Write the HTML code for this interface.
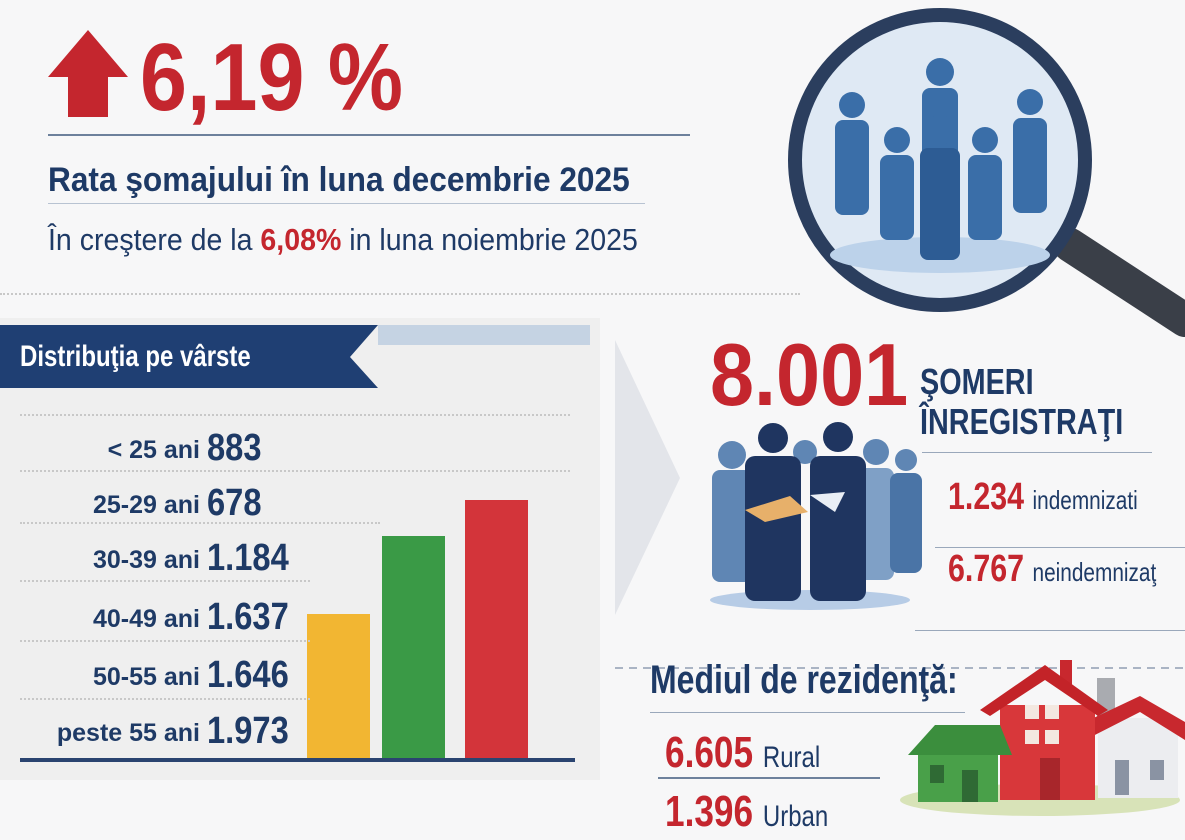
<!DOCTYPE html>
<html><head><meta charset="utf-8"><style>
body{margin:0;width:1185px;height:837px;overflow:hidden;background:#f7f7f8;font-family:"Liberation Sans",sans-serif;position:relative}
.a{position:absolute;white-space:nowrap}
.c{display:inline-block;transform:scaleX(.8);transform-origin:left center}
.r{color:#c4262e}.n{color:#1e3a66}
.b{font-weight:bold}
.ln{position:absolute;height:2px;background:#6d819c}
.dl{position:absolute;border-top:2px dotted #c8c8c8;height:0}
.lab{position:absolute;left:0;width:200px;text-align:right;font-size:25px;color:#1e3a66;font-weight:bold}
.val{position:absolute;left:207px;font-size:38px;font-weight:bold;color:#1e3a66}
.val .c{transform:scaleX(.86)}
</style></head><body>
<svg class="a" style="left:0;top:0" width="1185" height="837">
<polygon points="48,77 88,30 128,77 108,77 108,117 68,117 68,77" fill="#c4262e"/>
<rect x="0" y="318" width="600" height="462" fill="#efefef"/>
<polygon points="0,325 378,325 350,357 378,388 0,388" fill="#1f3f73"/>
<rect x="378" y="325" width="212" height="20" fill="#c5d3e3"/>
<rect x="307" y="614" width="63" height="145" fill="#f2b632"/>
<rect x="382" y="536" width="63" height="223" fill="#3a9a46"/>
<rect x="465" y="500" width="63" height="259" fill="#d3343a"/>
<rect x="20" y="758" width="555" height="4" fill="#2a4470"/>
<polygon points="615,340 680,478 615,615" fill="#e3e5ea"/>
<line x1="1070" y1="245" x2="1185" y2="320" stroke="#3a3f48" stroke-width="34" stroke-linecap="round"/>
<circle cx="940" cy="160" r="145" fill="#dfe9f4" stroke="#2b3e5e" stroke-width="14"/>
<ellipse cx="940" cy="255" rx="110" ry="18" fill="#bcd2ea"/>
<g fill="#3a6ea8">
<circle cx="940" cy="72" r="14"/><rect x="922" y="88" width="36" height="120" rx="8"/>
<circle cx="852" cy="105" r="13"/><rect x="835" y="120" width="34" height="95" rx="8"/>
<circle cx="1030" cy="102" r="13"/><rect x="1013" y="118" width="34" height="95" rx="8"/>
<circle cx="897" cy="140" r="13"/><rect x="880" y="155" width="34" height="85" rx="8"/>
<circle cx="985" cy="140" r="13"/><rect x="968" y="155" width="34" height="85" rx="8"/>
<circle cx="940" cy="130" r="15"/><rect x="920" y="148" width="40" height="112" rx="8" fill="#2d5c94"/>
</g>
<ellipse cx="810" cy="600" rx="100" ry="10" fill="#b7cce6"/>
<g fill="#5f86b4">
<circle cx="732" cy="455" r="14"/><rect x="712" y="470" width="40" height="112" rx="8"/>
<circle cx="876" cy="452" r="13"/><rect x="858" y="468" width="36" height="112" rx="8" fill="#7fa0c6"/>
<circle cx="906" cy="460" r="11"/><rect x="890" y="473" width="32" height="100" rx="8" fill="#4a74a6"/>
<circle cx="805" cy="452" r="12"/>
</g>
<g fill="#1f3560">
<circle cx="773" cy="438" r="15"/><rect x="745" y="456" width="56" height="145" rx="10"/>
<circle cx="838" cy="437" r="15"/><rect x="810" y="456" width="56" height="145" rx="10"/>
</g>
<polygon points="745,510 790,496 808,512 765,522" fill="#e7b06a"/>
<polygon points="810,495 845,492 835,512" fill="#e9eef5"/>
<line x1="615" y1="668" x2="1185" y2="668" stroke="#aab4c4" stroke-width="2" stroke-dasharray="8,6"/>
<ellipse cx="1040" cy="800" rx="140" ry="16" fill="#d8e3b8"/>
<rect x="1097" y="678" width="18" height="45" fill="#a9abb0"/>
<rect x="1098" y="718" width="80" height="80" fill="#ecedf0"/>
<polygon points="1085,722 1140,696 1185,722 1185,740 1140,712 1085,740" fill="#c8282e"/>
<rect x="1060" y="660" width="12" height="30" fill="#c8282e"/>
<rect x="1000" y="705" width="95" height="95" fill="#d8373a"/>
<polygon points="980,710 1045,665 1108,710 1098,716 1045,680 990,716" fill="#c32328"/>
<rect x="1025" y="705" width="14" height="14" fill="#f3e8e0"/><rect x="1045" y="705" width="14" height="14" fill="#f3e8e0"/>
<rect x="1025" y="730" width="14" height="14" fill="#f3e8e0"/><rect x="1045" y="730" width="14" height="14" fill="#f3e8e0"/>
<rect x="1040" y="758" width="20" height="42" fill="#a8262b"/>
<rect x="1115" y="760" width="14" height="35" fill="#8a93a3"/><rect x="1150" y="760" width="14" height="20" fill="#8a93a3"/>
<rect x="918" y="750" width="80" height="52" fill="#49a049"/>
<polygon points="908,755 935,725 1000,725 1012,755" fill="#3b8e3d"/>
<rect x="930" y="765" width="14" height="18" fill="#2f6a34"/><rect x="962" y="770" width="16" height="32" fill="#2f6a34"/>
</svg>
<div class="a r b" style="left:140px;top:30px;font-size:96px;line-height:96px"><span class="c" style="transform:scaleX(.88)">6,19 %</span></div>
<div class="ln" style="left:48px;top:134px;width:642px"></div>
<div class="a n b" style="left:48px;top:160px;font-size:34px;line-height:40px"><span class="c" style="transform:scaleX(.93)">Rata şomajului în luna decembrie 2025</span></div>
<div class="ln" style="left:48px;top:203px;width:597px;height:1px;background:#b8c3d2"></div>
<div class="a n" style="left:48px;top:222px;font-size:31px;line-height:36px"><span class="c" style="transform:scaleX(.92)">În creştere de la <b class="r">6,08%</b> in luna noiembrie 2025</span></div>
<div class="dl" style="left:0;top:293px;width:800px"></div>
<div class="a b" style="left:20px;top:337px;font-size:30px;color:#fff;line-height:40px"><span class="c">Distribuţia pe vârste</span></div>
<div class="dl" style="left:20px;top:414px;width:550px"></div>
<div class="dl" style="left:20px;top:470px;width:550px"></div>
<div class="dl" style="left:20px;top:522px;width:360px"></div>
<div class="dl" style="left:20px;top:580px;width:290px"></div>
<div class="dl" style="left:20px;top:640px;width:290px"></div>
<div class="dl" style="left:20px;top:698px;width:290px"></div>
<div class="lab" style="top:436px">&lt; 25 ani</div><div class="val" style="top:427px"><span class="c">883</span></div>
<div class="lab" style="top:491px">25-29 ani</div><div class="val" style="top:482px"><span class="c">678</span></div>
<div class="lab" style="top:546px">30-39 ani</div><div class="val" style="top:537px"><span class="c">1.184</span></div>
<div class="lab" style="top:605px">40-49 ani</div><div class="val" style="top:596px"><span class="c">1.637</span></div>
<div class="lab" style="top:663px">50-55 ani</div><div class="val" style="top:654px"><span class="c">1.646</span></div>
<div class="lab" style="top:719px">peste 55 ani</div><div class="val" style="top:710px"><span class="c">1.973</span></div>
<div class="a r b" style="left:710px;top:330px;font-size:88px;line-height:90px"><span class="c" style="transform:scaleX(.9)">8.001</span></div>
<div class="a n b" style="left:920px;top:362px;font-size:36px;line-height:40px"><span class="c">ŞOMERI</span></div>
<div class="a n b" style="left:920px;top:402px;font-size:36px;line-height:40px"><span class="c">ÎNREGISTRAŢI</span></div>
<div class="ln" style="left:922px;top:452px;width:230px;height:1px;background:#9aa8bb"></div>
<div class="a" style="left:948px;top:476px;font-size:38px;line-height:42px"><span class="c"><b class="r">1.234</b> <span class="n" style="font-size:26px">indemnizati</span></span></div>
<div class="ln" style="left:935px;top:547px;width:250px;height:1px;background:#9aa8bb"></div>
<div class="a" style="left:948px;top:548px;font-size:38px;line-height:42px"><span class="c"><b class="r">6.767</b> <span class="n" style="font-size:26px">neindemnizaţ</span></span></div>
<div class="ln" style="left:915px;top:630px;width:270px;height:1px;background:#9aa8bb"></div>
<div class="a n b" style="left:650px;top:658px;font-size:40px;line-height:44px"><span class="c">Mediul de rezidenţă:</span></div>
<div class="ln" style="left:650px;top:712px;width:315px;height:1px;background:#9aa8bb"></div>
<div class="a" style="left:665px;top:730px;font-size:44px;line-height:46px"><span class="c"><b class="r">6.605</b> <span class="n" style="font-size:30px">Rural</span></span></div>
<div class="ln" style="left:658px;top:777px;width:222px"></div>
<div class="a" style="left:665px;top:789px;font-size:44px;line-height:46px"><span class="c"><b class="r">1.396</b> <span class="n" style="font-size:30px">Urban</span></span></div>
</body></html>
